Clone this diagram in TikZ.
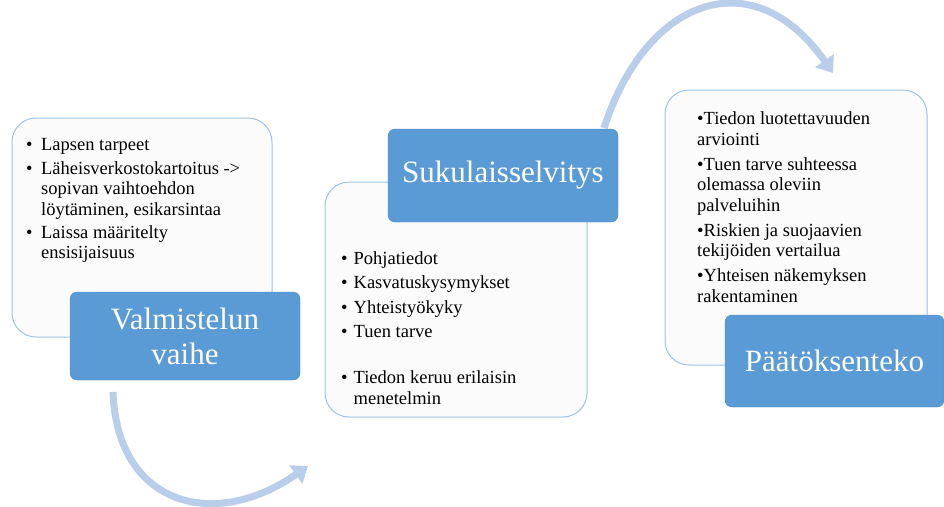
\documentclass[tikz,border=0pt]{standalone}
\usepackage{fontspec}
\setmainfont{Liberation Serif}
\usetikzlibrary{arrows.meta}

\definecolor{phaseblue}{RGB}{91,155,213}
\definecolor{phaseedge}{RGB}{72,136,198}
\definecolor{listedge}{RGB}{157,195,230}
\definecolor{listfill}{RGB}{251,251,251}
\definecolor{flowblue}{RGB}{184,206,235}
\newcommand{\listfont}{\fontsize{18.5}{20.5}\selectfont}
\newcommand{\phasefont}{\fontsize{31}{35}\selectfont}

\tikzset{
  listbox/.style={draw=listedge, line width=1pt, fill=listfill, rounded corners=24pt, inner sep=0pt},
  phasebox/.style={draw=phaseedge, fill=phaseblue, rounded corners=7pt, text=white,
    align=center, font=\phasefont, inner sep=0pt},
  listtext/.style={anchor=north west, inner sep=0pt, font=\listfont},
  flow/.style={draw=flowblue, line width=7pt, -{Triangle[width=22pt,length=15pt]}}
}

\begin{document}
\begin{tikzpicture}[x=1pt, y=1pt]
  \useasboundingbox (0,0) rectangle (944,-506);

  \coordinate (flowAs) at (113,-392);
  \coordinate (flowAe) at (308,-466);
  \coordinate (flowBs) at (604,-128);
  \coordinate (flowBe) at (833,-73);
  \draw[flow] (flowAs) to[out=-88, in=-145, looseness=1.4] (flowAe);
  \draw[flow] (flowBs) to[out=72, in=125, looseness=1.5] (flowBe);

  \node[listbox, minimum width=260pt, minimum height=219pt] (valmlist) at (142,-227.5) {};
  \node[listtext] (valmtext) at (26,-136) {%
    \begin{tabular}{@{}l@{\hspace{8.5pt}}l@{}}
      \textbullet & Lapsen tarpeet\\[3pt]
      \textbullet & Läheisverkostokartoitus ->\\
                  & sopivan vaihtoehdon\\
                  & löytäminen, esikarsintaa\\[2.5pt]
      \textbullet & Laissa määritelty\\
                  & ensisijaisuus
    \end{tabular}};
  \node[phasebox, minimum width=230pt, minimum height=88pt] (valm) at (185,-336) {Valmistelun\\vaihe};

  \node[listbox, minimum width=262pt, minimum height=235pt] (sukulist) at (456,-299.5) {};
  \node[listtext] (sukutext) at (341,-250) {%
    \begin{tabular}{@{}l@{\hspace{6pt}}l@{}}
      \textbullet & Pohjatiedot\\[3.8pt]
      \textbullet & Kasvatuskysymykset\\[3.8pt]
      \textbullet & Yhteistyökyky\\[3.8pt]
      \textbullet & Tuen tarve\\[26pt]
      \textbullet & Tiedon keruu erilaisin\\
                  & menetelmin
    \end{tabular}};
  \node[phasebox, minimum width=230pt, minimum height=93pt] (suku) at (503,-175.5) {Sukulaisselvitys};

  \node[listbox, minimum width=262pt, minimum height=275pt] (paatlist) at (796,-227.5) {};
  \node[listtext] (paattext) at (697,-110) {%
    \begin{tabular}{@{}l@{}}
      \textbullet Tiedon luotettavuuden\\
      arviointi\\[4.5pt]
      \textbullet Tuen tarve suhteessa\\
      olemassa oleviin\\
      palveluihin\\[4.5pt]
      \textbullet Riskien ja suojaavien\\
      tekijöiden vertailua\\[4.5pt]
      \textbullet Yhteisen näkemyksen\\
      rakentaminen
    \end{tabular}};
  \node[phasebox, minimum width=219pt, minimum height=92pt] (paat) at (834.5,-361) {Päätöksenteko};
\end{tikzpicture}
\end{document}
